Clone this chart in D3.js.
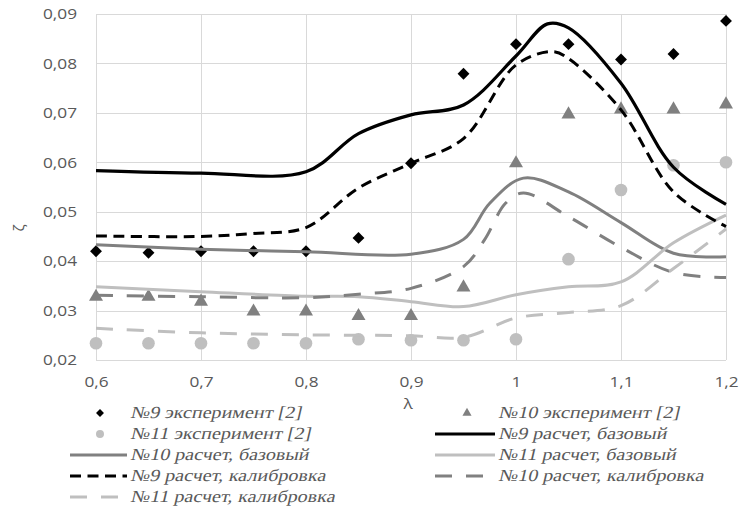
<!DOCTYPE html>
<html>
<head>
<meta charset="utf-8">
<script src="https://cdn.jsdelivr.net/npm/d3@7"></script>
<style>
  body { margin: 0; background: #fff; }
  svg { display: block; }
</style>
</head>
<body>
<svg id="chart" width="740" height="509"></svg>
<script>
// experiment points (same lambda for all three runs)
const lambdaExp = [0.6, 0.65, 0.7, 0.75, 0.8, 0.85, 0.9, 0.95, 1.0, 1.05, 1.1, 1.15, 1.2];
const exp9  = [0.042, 0.0417, 0.042, 0.042, 0.042, 0.0447, 0.0598, 0.0779, 0.0839, 0.0839, 0.0808, 0.0819, 0.0886];
const exp10 = [0.0328, 0.0328, 0.0318, 0.0298, 0.0298, 0.0289, 0.0289, 0.0347, 0.0598, 0.0697, 0.0707, 0.0707, 0.0717];
const exp11 = [0.0234, 0.0234, 0.0234, 0.0234, 0.0234, 0.0242, 0.024, 0.024, 0.0242, 0.0404, 0.0544, 0.0594, 0.060];

// calculated curves
const calc9BaseX = [0.6, 0.7, 0.8, 0.85, 0.9, 0.95, 1.0, 1.03, 1.05, 1.1, 1.15, 1.2];
const calc9Base  = [0.0583, 0.0578, 0.0581, 0.0658, 0.0696, 0.0716, 0.0815, 0.0880, 0.0872, 0.0760, 0.0590, 0.0515];
const calc9CalX  = [0.6, 0.7, 0.75, 0.8, 0.85, 0.9, 0.95, 1.0, 1.035, 1.05, 1.1, 1.15, 1.2];
const calc9Cal   = [0.0451, 0.045, 0.0456, 0.0468, 0.0548, 0.0598, 0.0648, 0.0797, 0.0824, 0.081, 0.0706, 0.054, 0.047];
const calc10BaseX = [0.6, 0.7, 0.8, 0.9, 0.95, 0.975, 1.007, 1.05, 1.1, 1.15, 1.2];
const calc10Base  = [0.0433, 0.0424, 0.0419, 0.0414, 0.0444, 0.0517, 0.0568, 0.054, 0.0478, 0.0416, 0.0409];
const calc10CalX  = [0.6, 0.7, 0.8, 0.85, 0.9, 0.95, 0.97, 0.99, 1.007, 1.05, 1.1, 1.15, 1.2];
const calc10Cal   = [0.0331, 0.0328, 0.0326, 0.0333, 0.0345, 0.0389, 0.0443, 0.0517, 0.0538, 0.049, 0.0428, 0.0377, 0.0367];
const calc11BaseX = [0.6, 0.7, 0.8, 0.85, 0.9, 0.95, 1.0, 1.05, 1.1, 1.15, 1.2];
const calc11Base  = [0.0348, 0.0338, 0.0329, 0.0328, 0.0318, 0.0308, 0.0332, 0.0348, 0.0358, 0.0437, 0.0493];
const calc11CalX  = [0.6, 0.7, 0.8, 0.9, 0.95, 1.0, 1.05, 1.1, 1.15, 1.2];
const calc11Cal   = [0.0264, 0.0255, 0.0251, 0.0249, 0.0246, 0.0285, 0.0296, 0.031, 0.0385, 0.0465];

const xTicks = [0.6, 0.7, 0.8, 0.9, 1.0, 1.1, 1.2];
const yTicks = [0.02, 0.03, 0.04, 0.05, 0.06, 0.07, 0.08, 0.09];

const legendNames = [
  "№9 эксперимент [2]", "№10 эксперимент [2]",
  "№11 эксперимент [2]", "№9 расчет, базовый",
  "№10 расчет, базовый", "№11 расчет, базовый",
  "№9 расчет, калибровка", "№10 расчет, калибровка",
  "№11 расчет, калибровка"
];

const black = "#000", dark = "#808080", light = "#bfbfbf";

const svg = d3.select("#chart");
const margin = {left: 96, right: 14, top: 14, bottom: 149};
const W = 740, H = 509;

const x = d3.scaleLinear().domain([0.6, 1.2]).range([margin.left, W - margin.right]);
const y = d3.scaleLinear().domain([0.02, 0.09]).range([H - margin.bottom, margin.top]);
const fmt = d => d3.format(".2~f")(d).replace(".", ",");

// the source picture is a bit wider than tall, so text gets stretched
const stretch = 1.15;

// grid
const grid = svg.append("g").attr("stroke", "#d9d9d9").attr("stroke-width", 1);
grid.selectAll("line.v").data(xTicks).join("line")
  .attr("x1", d => Math.round(x(d)) + 0.5).attr("x2", d => Math.round(x(d)) + 0.5)
  .attr("y1", y(0.09)).attr("y2", y(0.02));
grid.selectAll("line.h").data(yTicks).join("line")
  .attr("x1", x(0.6)).attr("x2", x(1.2))
  .attr("y1", d => Math.round(y(d)) + 0.5).attr("y2", d => Math.round(y(d)) + 0.5);

// axes labels
const tickFont = "'Open Sans', sans-serif";
const xAxis = svg.append("g").attr("transform", `translate(0,${y(0.02)})`)
  .call(d3.axisBottom(x).tickValues(xTicks).tickFormat(fmt).tickSize(0).tickPadding(16));
const yAxis = svg.append("g").attr("transform", `translate(${x(0.6)},0)`)
  .call(d3.axisLeft(y).tickValues(yTicks).tickFormat(fmt).tickSize(0).tickPadding(19));
[xAxis, yAxis].forEach(a => {
  a.select(".domain").remove();
  a.selectAll("text").attr("font-family", tickFont).attr("font-size", 15).attr("fill", "#595959")
    .attr("transform", `scale(${stretch},1)`);
});
yAxis.selectAll("text").attr("x", -19 / stretch);

svg.append("text").text("λ").attr("transform", `translate(408,409) scale(${stretch},1)`)
  .attr("text-anchor", "middle").attr("font-family", tickFont).attr("font-size", 15).attr("fill", "#595959");
svg.append("text").text("ζ").attr("transform", "translate(24,228) rotate(-90)")
  .attr("text-anchor", "middle").attr("font-family", tickFont).attr("font-size", 15).attr("fill", "#595959");

// markers
const diamond = d3.symbol(d3.symbolDiamond2, 90);
const tri = d3.symbol(d3.symbolTriangle, 85);
const circ = d3.symbol(d3.symbolCircle, 125);

const expSeries = [
  {vals: exp9, sym: diamond, fill: black},
  {vals: exp10, sym: tri, fill: dark},
  {vals: exp11, sym: circ, fill: light}
];
expSeries.forEach(s => {
  svg.append("g").selectAll("path").data(lambdaExp).join("path")
    .attr("d", s.sym)
    .attr("fill", s.fill)
    .attr("transform", (d, i) => `translate(${x(d)},${y(s.vals[i])})`);
});

// lines
const line = d3.line().x(d => x(d[0])).y(d => y(d[1])).curve(d3.curveCatmullRom.alpha(0.5));
const calcSeries = [
  {xs: calc9BaseX, vals: calc9Base, color: black, w: 3.2, dash: null},
  {xs: calc10BaseX, vals: calc10Base, color: dark, w: 3, dash: null},
  {xs: calc11BaseX, vals: calc11Base, color: light, w: 3, dash: null},
  {xs: calc9CalX, vals: calc9Cal, color: black, w: 3, dash: "11,6.5"},
  {xs: calc10CalX, vals: calc10Cal, color: dark, w: 3, dash: "17,14"},
  {xs: calc11CalX, vals: calc11Cal, color: light, w: 3, dash: "17,14"}
];
calcSeries.forEach(s => {
  svg.append("path")
    .datum(s.xs.map((v, i) => [v, s.vals[i]]))
    .attr("d", line)
    .attr("fill", "none")
    .attr("stroke", s.color)
    .attr("stroke-width", s.w)
    .attr("stroke-dasharray", s.dash);
});

// legend, two columns, row by row
const legendItems = [
  {kind: "m", sym: d3.symbol(d3.symbolDiamond2, 40), color: black},
  {kind: "m", sym: d3.symbol(d3.symbolTriangle, 36), color: dark},
  {kind: "m", sym: d3.symbol(d3.symbolCircle, 50), color: light},
  calcSeries[0], calcSeries[1], calcSeries[2],
  calcSeries[3], calcSeries[4], calcSeries[5]
];
const colX = [{mark: 100, l0: 70, l1: 127, text: 129}, {mark: 467, l0: 435, l1: 495, text: 497}];
const leg = svg.append("g");

// no serif italic face here, so slant the upright serif by hand;
// horizontal squeeze fitted so the first label is as wide as in the source
const legFont = "'Liberation Serif', 'Times New Roman', serif";
const probe = svg.append("text").text(legendNames[0])
  .style("font-family", legFont).attr("font-size", 17);
const legSx = 171 / probe.node().getComputedTextLength();
probe.remove();

legendItems.forEach((it, i) => {
  const c = colX[i % 2];
  const ry = 413 + Math.floor(i / 2) * 21;
  if (it.kind === "m") {
    leg.append("path").attr("d", it.sym).attr("fill", it.color)
      .attr("transform", `translate(${c.mark},${ry})`);
  } else {
    leg.append("line").attr("x1", c.l0).attr("x2", c.l1).attr("y1", ry).attr("y2", ry)
      .attr("stroke", it.color).attr("stroke-width", it.w).attr("stroke-dasharray", it.dash);
  }
  leg.append("text").text(legendNames[i])
    .attr("transform", `translate(${c.text + 1},${ry + 5}) skewX(-13) scale(${legSx},1)`)
    .style("font-family", legFont)
    .attr("font-size", 17).attr("fill", "#595959");
});
</script>
</body>
</html>
